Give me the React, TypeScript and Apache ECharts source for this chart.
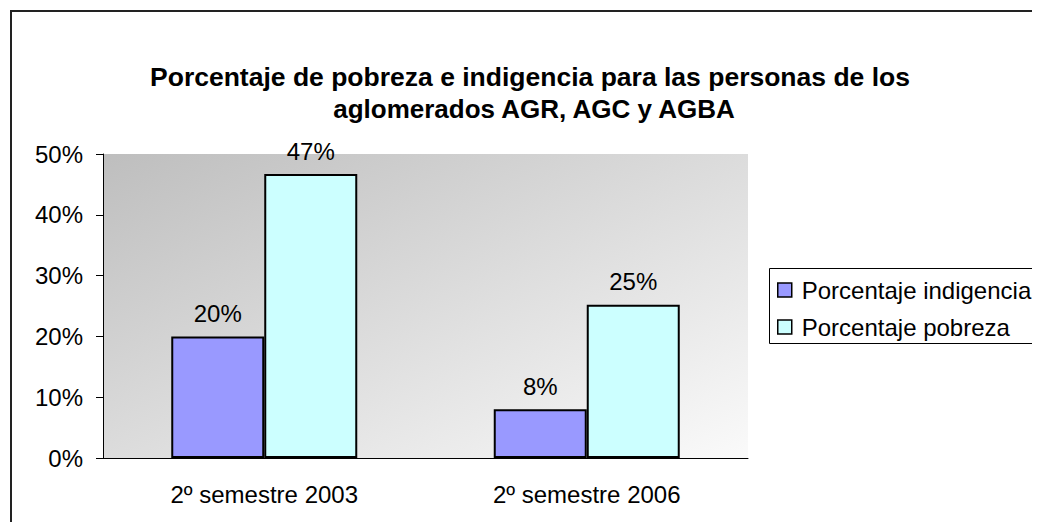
import React, { useEffect, useRef } from "react";
import * as echarts from "echarts";

const categories = ["2º semestre 2003", "2º semestre 2006"];
const indigencia = [20, 8];
const pobreza = [46.7, 25.2];
const seriesNames = ["Porcentaje indigencia", "Porcentaje pobreza"];
const titleLines = [
  "Porcentaje de pobreza e indigencia para las personas de los",
  "aglomerados AGR, AGC y AGBA",
];

const FONT = "Arial, 'Liberation Sans', sans-serif";
const FS = 24;

export default function App() {
  const ref = useRef<HTMLDivElement>(null);
  useEffect(() => {
    if (!ref.current) return;
    document.body.style.overflow = "hidden";
    const chart = echarts.init(ref.current, null, {
      renderer: "svg",
      width: 1032,
      height: 514,
    });
    const labelCfg = {
      show: true,
      position: "top",
      distance: 11,
      color: "#000",
      fontSize: FS,
      fontFamily: FONT,
      formatter: (p: any) => Math.round(p.value) + "%",
    };
    chart.setOption({
      animation: false,
      backgroundColor: "#fff",
      textStyle: { fontFamily: FONT },
      graphic: [
        {
          type: "rect",
          shape: { x: 3, y: 3, width: 1200, height: 800 },
          style: { fill: "none", stroke: "#222", lineWidth: 2 },
          silent: true,
        },
        {
          type: "rect",
          shape: { x: 761.5, y: 260.5, width: 400, height: 75 },
          style: { fill: "#fff", stroke: "#000", lineWidth: 1 },
          silent: true,
          z: 0,
        },
        {
          type: "text",
          x: 522,
          y: 69,
          style: {
            text: titleLines[0],
            fontSize: 26.5,
            fontWeight: "bold",
            fontFamily: FONT,
            fill: "#000",
            align: "center",
            verticalAlign: "middle",
          },
        },
        {
          type: "text",
          x: 526,
          y: 101,
          style: {
            text: titleLines[1],
            fontSize: 26,
            fontWeight: "bold",
            fontFamily: FONT,
            fill: "#000",
            align: "center",
            verticalAlign: "middle",
          },
        },
      ],
      grid: {
        left: 95,
        top: 146,
        width: 645,
        height: 304,
        show: true,
        borderWidth: 0,
        backgroundColor: {
          type: "linear",
          x: 0,
          y: 0,
          x2: 1,
          y2: 1,
          colorStops: [
            { offset: 0, color: "#bebebe" },
            { offset: 1, color: "#fafafa" },
          ],
        },
      },
      legend: {
        orient: "vertical",
        left: 764,
        top: 264,
        itemWidth: 14,
        itemHeight: 14,
        itemGap: 11,
        icon: "rect",
        data: seriesNames,
        textStyle: {
          fontSize: FS,
          fontFamily: FONT,
          color: "#000",
          lineHeight: 26,
          padding: [0, 0, 0, 5],
        },
        itemStyle: { borderColor: "#000", borderWidth: 1.5 },
      },
      xAxis: {
        type: "category",
        data: categories,
        axisLine: { show: true, lineStyle: { color: "#000", width: 1 } },
        axisTick: { show: false },
        axisLabel: {
          color: "#000",
          fontSize: FS,
          fontFamily: FONT,
          margin: 24,
        },
      },
      yAxis: {
        type: "value",
        min: 0,
        max: 50,
        interval: 10,
        splitLine: { show: false },
        axisLine: { show: true, lineStyle: { color: "#000", width: 1 } },
        axisTick: { show: true, length: 7, lineStyle: { color: "#000" } },
        axisLabel: {
          color: "#000",
          fontSize: FS,
          fontFamily: FONT,
          margin: 20,
          formatter: "{value}%",
        },
      },
      series: [
        {
          name: seriesNames[0],
          type: "bar",
          data: indigencia,
          barWidth: 93,
          barGap: "0%",
          itemStyle: { color: "#9999ff", borderColor: "#000", borderWidth: 2 },
          label: labelCfg,
        },
        {
          name: seriesNames[1],
          type: "bar",
          data: pobreza,
          barWidth: 93,
          barGap: "0%",
          itemStyle: { color: "#ccffff", borderColor: "#000", borderWidth: 2 },
          label: labelCfg,
        },
      ],
    });
    return () => chart.dispose();
  }, []);
  return <div ref={ref} style={{ width: 1032, height: 514 }} />;
}
